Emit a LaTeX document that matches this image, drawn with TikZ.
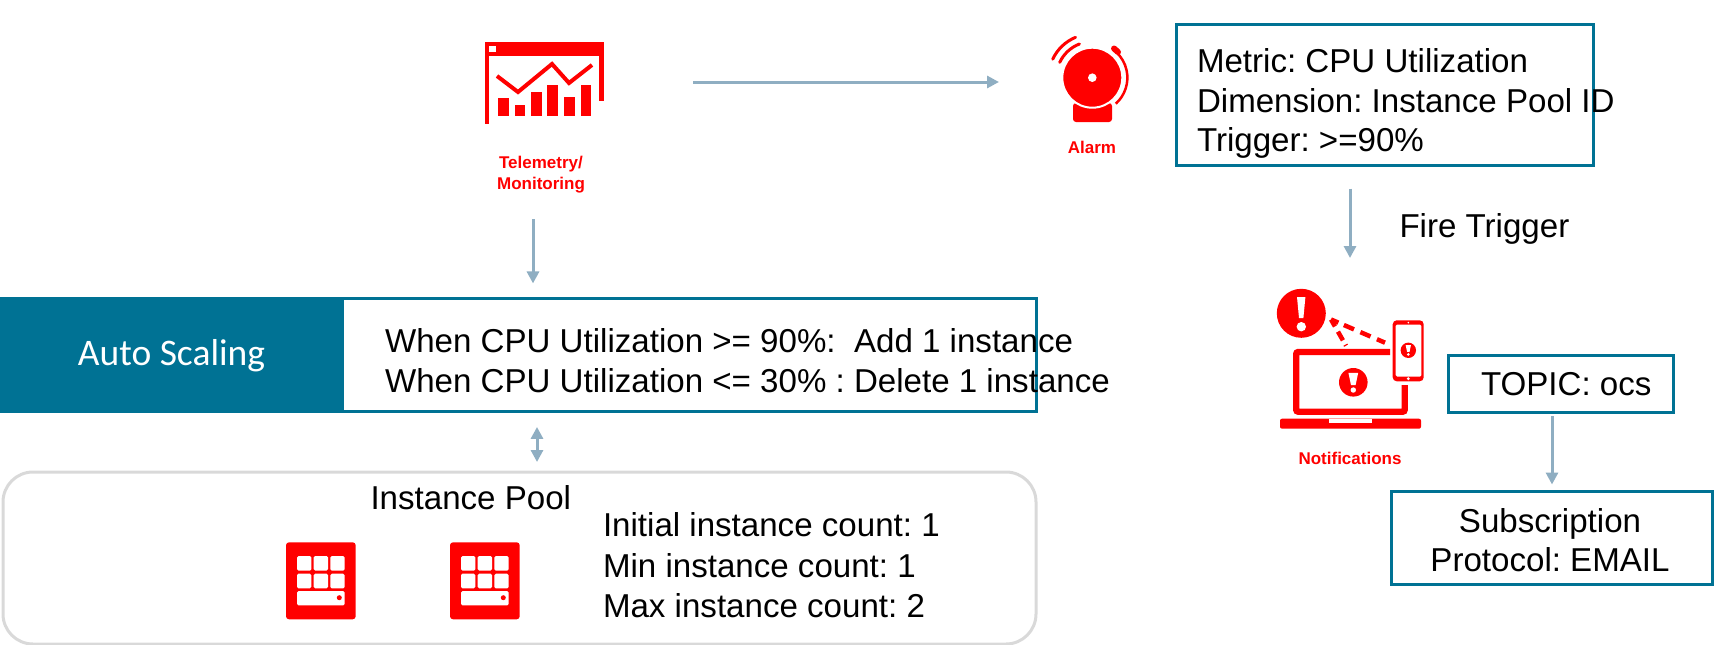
\documentclass[tikz,border=0pt]{standalone}
\usepackage{fontspec}
\setmainfont{Liberation Sans}
\newfontfamily\carlitofont{Carlito}
\usetikzlibrary{arrows.meta}
\definecolor{oteal}{HTML}{007294}
\definecolor{oflow}{HTML}{8FAEC2}
\definecolor{ogrey}{HTML}{D9D9D9}
\definecolor{ored}{HTML}{FF0000}
\tikzset{
  flow/.style={line width=3pt, draw=oflow, -{Triangle[length=12pt,width=12pt]}},
  boxed/.style={draw=oteal, line width=3pt, fill=white, inner sep=0pt, outer sep=0pt},
  body/.style={inner sep=0pt, outer sep=0pt, align=left, font=\fontsize{33.1}{39.6}\selectfont\frenchspacing},
  mid/.style={body, align=center},
  tag/.style={inner sep=0pt, outer sep=0pt, align=center, text=ored, font=\fontsize{17}{21}\selectfont\bfseries},
  blob/.style={circle, fill=ored, inner sep=0pt, outer sep=0pt},
}
% red disc with a white mark, #3 is the radius
\newcommand{\alertmark}[3]{
  \fill[ored] (#1,#2) circle (#3pt);
  \fill[white] ({#1-0.34*#3},{#2-0.66*#3}) -- ({#1+0.34*#3},{#2-0.66*#3}) -- ({#1+0.16*#3},{#2+0.2*#3}) -- ({#1-0.16*#3},{#2+0.2*#3}) -- cycle;
  \fill[white] (#1,{#2+0.54*#3}) circle ({0.19*#3 pt});
}
% one instance, #1 is the left edge
\newcommand{\instancechip}[1]{
  \begin{scope}[xshift=#1pt]
    \fill[ored, rounded corners=3pt] (0,542.3) rectangle (69.7,619.3);
    \foreach \cx in {11,27.7,44.3} {
      \foreach \cy in {556,573.7} {
        \fill[white, rounded corners=1.5pt] (\cx,\cy) rectangle ++(14.4,14.6);
      }
    }
    \fill[white, rounded corners=1.5pt] (11,591) rectangle (58.7,605.3);
    \fill[ored] (53.3,597.7) circle (2.5pt);
  \end{scope}
}

\begin{document}
\begin{tikzpicture}[x=1pt, y=-1pt]
    \useasboundingbox (0,0) rectangle (1724,645);

    % left side
    \node[boxed, minimum width=693.5pt, minimum height=113.5pt] (rule) at (689.25,355.2) {};
    \node[fill=oteal, text=white, inner sep=0pt, outer sep=0pt, minimum width=343pt, minimum height=116.5pt, font=\carlitofont\fontsize{37.5}{40}\selectfont] (autoscale) at (171.5,355.2) {\raisebox{-2pt}{Auto Scaling}};
    \node[body, anchor=north west] (ruletext) at (385,328.6) {When CPU Utilization >= 90\%:\ \ Add 1 instance\\When CPU Utilization <= 30\% : Delete 1 instance};

    \node[draw=ogrey, line width=3pt, rounded corners=30pt, inner sep=0pt, outer sep=0pt, minimum width=1033pt, minimum height=172pt] (pool) at (519.5,558) {};
    \node[body, anchor=base west] (pooltitle) at (370.5,509) {Instance Pool};
    \node[body, anchor=north west, font=\fontsize{33.1}{40.7}\selectfont\frenchspacing] (poolcounts) at (603,512.5) {Initial instance count: 1\\Min instance count: 1\\Max instance count: 2};
    \instancechip{286}
    \instancechip{450}

    % telemetry
    \node[fill=ored, inner sep=0pt, outer sep=0pt, minimum width=119pt, minimum height=14pt] (telemetry) at (544.5,49) {};
    \fill[white] (489,46) rectangle (496,52);
    \fill[ored] (485,56) rectangle (489.3,124);
    \fill[ored] (599.3,56) rectangle (604,101);
    \draw[ored, line width=4pt] (497,76) -- (518,92) -- (552,64) -- (569,83) -- (592,65);
    \foreach \xa/\xb/\ytop in {498/509/98, 515/525/105, 531/542/92, 547/558/85, 564/575/97, 581/591/85} {
      \fill[ored] (\xa,\ytop) rectangle (\xb,116);
    }
    \node[tag] (telemetrylabel) at (541,175) {Telemetry/\\Monitoring};

    % alarm
    \fill[ored, rounded corners=3pt] (1073,103) rectangle (1112,122);
    \node[blob, draw=white, line width=2pt, minimum size=60pt] (bell) at (1092.3,77.7) {};
    \fill[white] (bell) circle (4.3pt);
    \draw[ored, line width=2.5pt] (1115.8,103.7) arc (-48:48:35pt);
    \draw[ored, line width=6pt, line cap=round] (1114,48.5) -- (1118,52);
    \draw[ored, line width=3pt, line cap=round] (1052.7,59.2) arc (155:112.6:43.7pt);
    \draw[ored, line width=3pt, line cap=round] (1059.7,62.4) arc (155:111:36pt);
    \node[tag] (alarmlabel) at (1092,147.5) {Alarm};

    % metric box
    \node[boxed, fill=none, minimum width=417pt, minimum height=141pt] (metric) at (1384.5,95) {};
    \node[body, anchor=north west] (metrictext) at (1197,48.6) {Metric: CPU Utilization\\Dimension: Instance Pool ID\\Trigger: >=90\%};
    \node[body, anchor=base west] (firetext) at (1399.5,237) {Fire Trigger};

    % notifications
    \node[blob, minimum size=49pt] (notify) at (1301.3,313.3) {};
    \fill[white] (1297,297) -- (1305.4,297) -- (1303.4,318) -- (1299,318) -- cycle;
    \fill[white] (1301.3,326.7) circle (4.7pt);
    \draw[ored, line width=6.3pt, rounded corners=2pt] (1390,352) -- (1296.2,352) -- (1296.2,411.7) -- (1404.7,411.7) -- (1404.7,385);
    \fill[ored, rounded corners=2pt] (1280,418.7) rectangle (1421,428.7);
    \fill[white] (1329,418.7) rectangle (1372,422.7);
    \alertmark{1353.3}{382.3}{14.3}
    \fill[ored, rounded corners=4pt] (1392.7,320.3) rectangle (1423.7,381.3);
    \fill[white, rounded corners=1.5pt] (1395.7,324.5) rectangle (1421.3,376.7);
    \fill[white] (1408.3,322.6) circle (0.9pt);
    \fill[white] (1408.3,378.7) circle (1.6pt);
    \alertmark{1408.3}{350.3}{7.7}
    \draw[ored, line width=4.5pt, dash pattern=on 8pt off 6pt on 11pt off 7pt on 11pt off 7pt on 11pt] (1331,319.5) -- (1385,342.7);
    \draw[ored, line width=4.5pt, dash pattern=on 8pt off 6pt on 10pt off 5pt on 10pt] (1331,319.5) -- (1346,345.7);
    \node[tag] (notifylabel) at (1350,458) {Notifications};

    % topic and subscription
    \node[boxed, fill=none, minimum width=225pt, minimum height=57pt] (topic) at (1561,383.5) {};
    \node[body, anchor=base west] (topiclabel) at (1481,395) {TOPIC: ocs};
    \node[boxed, fill=none, minimum width=321pt, minimum height=93pt] (subscription) at (1552,538) {};
    \node[mid] (subscriptiontext) at (1550,540) {Subscription\\Protocol: EMAIL};

    % connectors
    \coordinate (topwire) at (0,82);
    \coordinate (monwire) at (533,0);
    \coordinate (firewire) at (1350,0);
    \coordinate (swapwire) at (537,0);
    \coordinate (topicwire) at (1552,0);
    \draw[flow, shorten <=89pt, shorten >=63.3pt] (topwire -| telemetry.east) -- (topwire -| bell.west);
    \draw[flow, shorten <=26pt, shorten >=15pt] (telemetrylabel.south -| monwire) -- (rule.north -| monwire);
    \draw[flow, shorten <=23pt, shorten >=30.8pt] (metric.south -| firewire) -- (notify.north -| firewire);
    \draw[flow, {Triangle[length=12pt,width=12pt]}-{Triangle[length=12pt,width=12pt]}, shorten <=15pt, shorten >=10pt] (rule.south -| swapwire) -- (pool.north -| swapwire);
    \draw[flow, shorten <=4pt, shorten >=7pt] (topic.south -| topicwire) -- (subscription.north -| topicwire);

\end{tikzpicture}
\end{document}
